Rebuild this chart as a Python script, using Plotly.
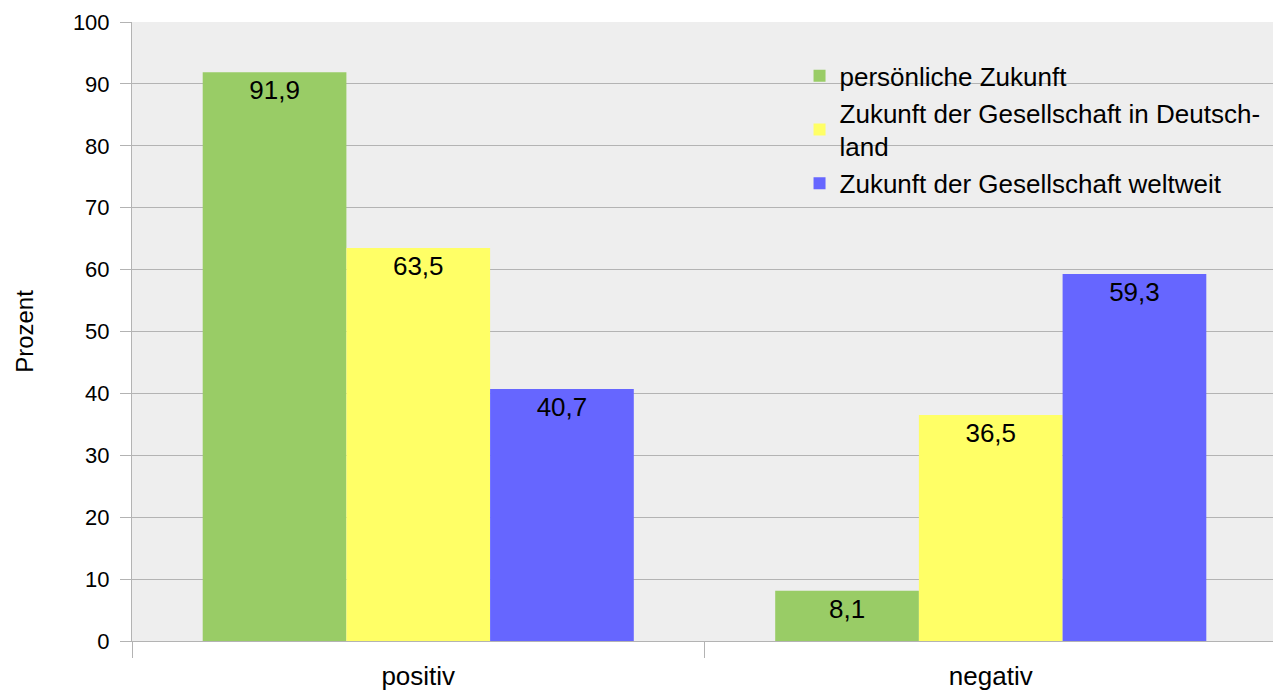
import plotly.graph_objects as go

CATEGORIES = ["positiv", "negativ"]
SERIES = ["persönliche Zukunft", "Zukunft der Gesellschaft in Deutsch-<br>land", "Zukunft der Gesellschaft weltweit"]
VALUES = [
    [91.9, 8.1],
    [63.5, 36.5],
    [40.7, 59.3],
]
COLORS = ["#99cc66", "#ffff66", "#6666ff"]
Y_TICKS = list(range(0, 101, 10))

FONT = "Liberation Sans, Arial, sans-serif"
GRID = "#b3b3b3"

fig = go.Figure()
for name, vals, color in zip(SERIES, VALUES, COLORS):
    fig.add_trace(
        go.Bar(
            name=name,
            x=CATEGORIES,
            y=vals,
            marker=dict(color=color, line=dict(width=0)),
            text=[f"{v:.1f}".replace(".", ",") for v in vals],
            textposition="inside",
            insidetextanchor="end",
            textangle=0,
            textfont=dict(size=26, color="#000000", family=FONT),
        )
    )

# the page body has an 8px margin, so the figure is a bit smaller than the window
fig.update_layout(
    width=1273,
    height=682,
    barmode="group",
    bargap=0.247,
    bargroupgap=0,
    paper_bgcolor="#ffffff",
    plot_bgcolor="#eeeeee",
    font=dict(family=FONT, size=24, color="#000000"),
    margin=dict(t=14, r=4, b=49, l=124),
    uniformtext=dict(minsize=26, mode="show"),
    legend=dict(
        x=0.583, y=0.951, xanchor="left", yanchor="top",
        bgcolor="rgba(0,0,0,0)",
        font=dict(size=26, family=FONT),
        itemwidth=30,
    ),
    xaxis=dict(
        showgrid=False,
        tickson="boundaries",
        ticks="outside",
        ticklen=16,
        tickcolor=GRID,
        showline=True,
        linecolor=GRID,
        tickfont=dict(size=26),
        ticklabelstandoff=12,
        automargin=False,
    ),
    yaxis=dict(
        range=[0, 100],
        tickvals=Y_TICKS,
        ticks="outside",
        ticklen=11,
        tickcolor=GRID,
        gridcolor=GRID,
        showline=True,
        linecolor=GRID,
        zeroline=False,
        tickfont=dict(size=22),
        ticklabelstandoff=6,
        automargin=False,
        title=dict(text="Prozent", font=dict(size=24), standoff=32),
    ),
)

fig.write_html("out.html")
